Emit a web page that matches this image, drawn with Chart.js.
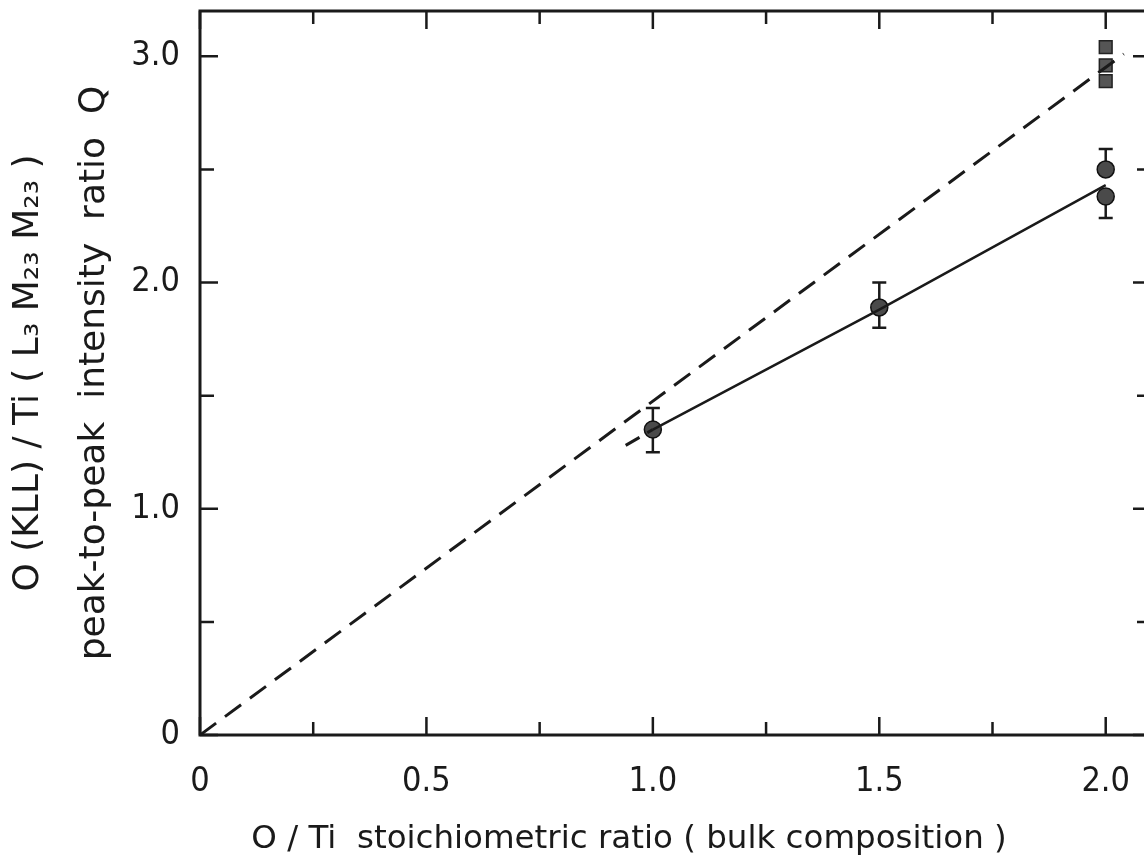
<!DOCTYPE html>
<html>
<head>
<meta charset="utf-8">
<script src="https://cdn.jsdelivr.net/npm/chart.js@4"></script>
<style>
  html, body { margin: 0; padding: 0; background: #fff; overflow: hidden; }
  #wrap { width: 1153px; height: 859px; }
</style>
</head>
<body>
<div id="wrap"><canvas id="chart" width="1153" height="859"></canvas></div>
<script>
(() => {
  'use strict'

  // measured points (circles with error bars)
  const circleX = [1.0, 1.5, 2.0, 2.0]
  const circleY = [1.35, 1.89, 2.50, 2.38]
  const errHigh = [1.445, 2.0, 2.59, null]
  const errLow = [1.25, 1.80, null, 2.285]

  // squares at O/Ti = 2
  const squareX = [2.0, 2.0, 2.0]
  const squareY = [3.04, 2.96, 2.89]

  // dashed reference line
  const refX = [0, 2.04]
  const refY = [0, 3.01]

  // solid fit through the circles and its dashed extension
  const fitX = [1.0, 1.5, 2.0]
  const fitY = [1.35, 1.88, 2.43]
  const extX = [0.94, 1.0]
  const extY = [1.28, 1.35]

  const xTicks = [0, 0.25, 0.5, 0.75, 1.0, 1.25, 1.5, 1.75, 2.0]
  const yTicks = [0, 0.5, 1.0, 1.5, 2.0, 2.5, 3.0]

  const FONT = '"DejaVu Sans Condensed", "Liberation Sans Narrow", "Roboto", sans-serif'
  const TFONT = '"DejaVu Sans", "Open Sans", sans-serif'
  const INK = '#1a1a1a'

  const pts = (xs, ys) => xs.map((x, i) => ({ x: x, y: ys[i] }))

  // frame + inward ticks on all four sides
  const frame = {
    id: 'frame',
    afterDraw(chart) {
      const { ctx, chartArea: a, scales: { x, y } } = chart
      ctx.save()
      ctx.strokeStyle = INK
      ctx.lineWidth = 3
      ctx.strokeRect(a.left, a.top, a.right - a.left, a.bottom - a.top)
      ctx.lineWidth = 2.5
      ctx.beginPath()
      xTicks.forEach(v => {
        const px = x.getPixelForValue(v)
        const len = (v * 2) % 1 === 0 ? 18 : 13
        ctx.moveTo(px, a.bottom); ctx.lineTo(px, a.bottom - len)
        ctx.moveTo(px, a.top); ctx.lineTo(px, a.top + len)
      })
      yTicks.forEach(v => {
        const py = y.getPixelForValue(v)
        const len = v % 1 === 0 ? 18 : 14
        ctx.moveTo(a.left, py); ctx.lineTo(a.left + len, py)
        ctx.moveTo(a.right, py); ctx.lineTo(a.right - len, py)
      })
      ctx.stroke()
      ctx.restore()
    }
  }

  // error bars drawn just before the circle markers
  const errorBars = {
    id: 'errorBars',
    beforeDatasetDraw(chart, args) {
      if (chart.data.datasets[args.index].label !== 'circles') return
      const { ctx, scales: { x, y } } = chart
      ctx.save()
      ctx.strokeStyle = INK
      ctx.lineWidth = 2.5
      ctx.beginPath()
      circleX.forEach((cx, i) => {
        const px = x.getPixelForValue(cx)
        const py = y.getPixelForValue(circleY[i])
        ;[errHigh[i], errLow[i]].forEach(e => {
          if (e === null) return
          const pe = y.getPixelForValue(e)
          ctx.moveTo(px, py); ctx.lineTo(px, pe)
          ctx.moveTo(px - 7, pe); ctx.lineTo(px + 7, pe)
        })
      })
      ctx.stroke()
      ctx.restore()
    }
  }

  const ctx = document.getElementById('chart')
  // eslint-disable-next-line no-unused-vars
  const chart = new Chart(ctx, {
    type: 'scatter',
    data: {
      datasets: [{
        label: 'ref',
        data: pts(refX, refY),
        showLine: true,
        borderColor: INK,
        borderWidth: 3,
        borderDash: [20, 11],
        pointRadius: 0
      }, {
        label: 'ext',
        data: pts(extX, extY),
        showLine: true,
        borderColor: INK,
        borderWidth: 3,
        borderDash: [16, 9],
        pointRadius: 0
      }, {
        label: 'fit',
        data: pts(fitX, fitY),
        showLine: true,
        borderColor: INK,
        borderWidth: 2.5,
        lineTension: 0,
        pointRadius: 0
      }, {
        label: 'circles',
        data: pts(circleX, circleY),
        showLine: false,
        pointStyle: 'circle',
        pointRadius: 8.5,
        pointBackgroundColor: '#4a4a4a',
        pointBorderColor: '#111',
        pointBorderWidth: 1.5
      }, {
        label: 'squares',
        data: pts(squareX, squareY),
        showLine: false,
        pointStyle: 'rect',
        pointRadius: 9,
        pointBackgroundColor: '#555',
        pointBorderColor: '#222',
        pointBorderWidth: 1.5
      }]
    },
    options: {
      responsive: false,
      animation: false,
      layout: { autoPadding: false, padding: { top: 11, right: 2, left: 0, bottom: 0 } },
      plugins: {
        legend: { display: false },
        tooltip: { enabled: false }
      },
      scales: {
        x: {
          type: 'linear',
          min: 0,
          max: 2.1,
          afterBuildTicks: s => { s.ticks = xTicks.map(v => ({ value: v })) },
          afterFit: s => { s.height = 124; s.paddingLeft = 0; s.paddingRight = 0 },
          grid: { display: false, drawTicks: false },
          border: { display: false },
          ticks: {
            padding: 27,
            color: INK,
            maxRotation: 0,
            autoSkip: false,
            font: { family: FONT, size: 34 },
            callback: v => (v * 2) % 1 === 0 ? (v === 0 ? '0' : v.toFixed(1)) : ''
          },
          title: {
            display: true,
            // trailing spaces shift the centred title left, as in the original
            text: 'O / Ti  stoichiometric ratio ( bulk composition )         ',
            color: INK,
            font: { family: TFONT, size: 32.5 },
            padding: { top: 7, bottom: 0 }
          }
        },
        y: {
          type: 'linear',
          min: 0,
          max: 3.2,
          afterBuildTicks: s => { s.ticks = yTicks.map(v => ({ value: v })) },
          afterFit: s => { s.width = 200; s.paddingTop = 0; s.paddingBottom = 0 },
          grid: { display: false, drawTicks: false },
          border: { display: false },
          ticks: {
            padding: 20,
            color: INK,
            autoSkip: false,
            font: { family: FONT, size: 34 },
            callback: v => v % 1 === 0 ? (v === 0 ? '0' : v.toFixed(1)) : ''
          },
          title: {
            display: true,
            text: ['O (KLL) / Ti ( L₃ M₂₃ M₂₃ )', 'peak-to-peak  intensity  ratio  Q'],
            color: INK,
            font: { family: TFONT, size: 36, lineHeight: 1.85 },
            padding: { top: -5, bottom: 0 }
          }
        }
      }
    },
    plugins: [errorBars, frame]
  })
})()
</script>
</body>
</html>
